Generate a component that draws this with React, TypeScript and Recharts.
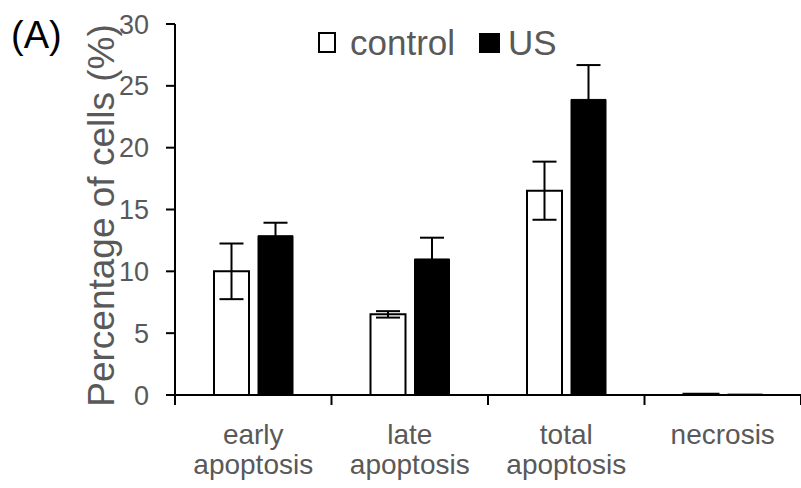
import { BarChart, Bar, XAxis, YAxis, ErrorBar } from "recharts";

const categories = [
  ["early", "apoptosis"],
  ["late", "apoptosis"],
  ["total", "apoptosis"],
  ["necrosis"],
];
const control = [10.0, 6.52, 16.52, 0.1];
const controlErr = [2.25, 0.26, 2.35, 0];
const us = [12.88, 11.0, 23.9, 0.07];
const usErr = [1.05, 1.72, 2.78, 0];
const yTicks = [0, 5, 10, 15, 20, 25, 30];

const data = categories.map((c, i) => ({
  name: c.join(" "),
  lines: c,
  control: control[i],
  controlErr: controlErr[i],
  us: us[i],
  usErr: usErr[i],
}));

const GRAY = "#595959";
const FONT = "'Liberation Sans', Arial, sans-serif";

const CategoryTick = (props: any) => {
  const { x, y, payload, index, visibleTicksCount } = props;
  const half = payload.offset ?? 0;
  const lines: string[] = data[index]?.lines ?? [payload.value];
  return (
    <g>
      <line x1={x - half} x2={x - half} y1={y - 8} y2={y + 2} stroke="#000" strokeWidth={2} />
      {index === visibleTicksCount - 1 && (
        <line x1={x + half} x2={x + half} y1={y - 8} y2={y + 2} stroke="#000" strokeWidth={2} />
      )}
      {lines.map((l, i) => (
        <text key={i} x={x} y={y + 41 + i * 30} textAnchor="middle" fill={GRAY} fontSize={28} fontFamily={FONT}>
          {l}
        </text>
      ))}
    </g>
  );
};

const YLabel = (props: any) => {
  const vb = props.viewBox ?? { x: 0, y: 0, width: 0, height: 0 };
  const cx = 114;
  const cy = vb.y + vb.height / 2 + 6;
  return (
    <text
      x={cx}
      y={cy}
      transform={`rotate(-90 ${cx} ${cy})`}
      textAnchor="middle"
      fill={GRAY}
      fontSize={37}
      fontFamily={FONT}
    >
      Percentage of cells (%)
    </text>
  );
};

export default function App() {
  return (
    <div style={{ position: "absolute", left: 0, top: 0, width: 801, height: 488, background: "#fff" }}>
      <div style={{ position: "absolute", left: 11, top: 16, fontFamily: FONT, fontSize: 38, lineHeight: "38px", color: "#000" }}>
        (A)
      </div>
      <div
        style={{
          position: "absolute",
          left: 318,
          top: 25,
          display: "flex",
          alignItems: "center",
          fontFamily: FONT,
          fontSize: 35,
          lineHeight: "35px",
          color: GRAY,
          zIndex: 2,
        }}
      >
        <span style={{ width: 14, height: 17, border: "2px solid #000", background: "#fff", display: "inline-block", marginRight: 14 }} />
        <span style={{ marginRight: 24 }}>control</span>
        <span style={{ width: 21, height: 20, background: "#000", display: "inline-block", marginRight: 8 }} />
        <span>US</span>
      </div>
      <BarChart
        width={801}
        height={488}
        data={data}
        margin={{ top: 24, right: 0, bottom: 0, left: 0 }}
        barSize={35}
        barGap={9}
      >
        <XAxis
          dataKey="name"
          axisLine={{ stroke: "#000", strokeWidth: 2 }}
          tickLine={false}
          tick={<CategoryTick />}
          interval={0}
          height={93}
        />
        <YAxis
          width={175}
          domain={[0, 30]}
          ticks={yTicks}
          interval={0}
          axisLine={{ stroke: "#000", strokeWidth: 2 }}
          tickLine={{ stroke: "#000", strokeWidth: 2 }}
          tickSize={9}
          tick={{ fill: GRAY, fontSize: 27, fontFamily: FONT, dx: -15 }}
          label={<YLabel />}
        />
        <Bar dataKey="control" fill="#fff" stroke="#000" strokeWidth={2} isAnimationActive={false}>
          <ErrorBar dataKey="controlErr" width={12} stroke="#000" strokeWidth={2} direction="y" />
        </Bar>
        <Bar dataKey="us" fill="#000" stroke="#000" strokeWidth={1} isAnimationActive={false}>
          <ErrorBar dataKey="usErr" width={12} stroke="#000" strokeWidth={2} direction="y" />
        </Bar>
      </BarChart>
    </div>
  );
}
